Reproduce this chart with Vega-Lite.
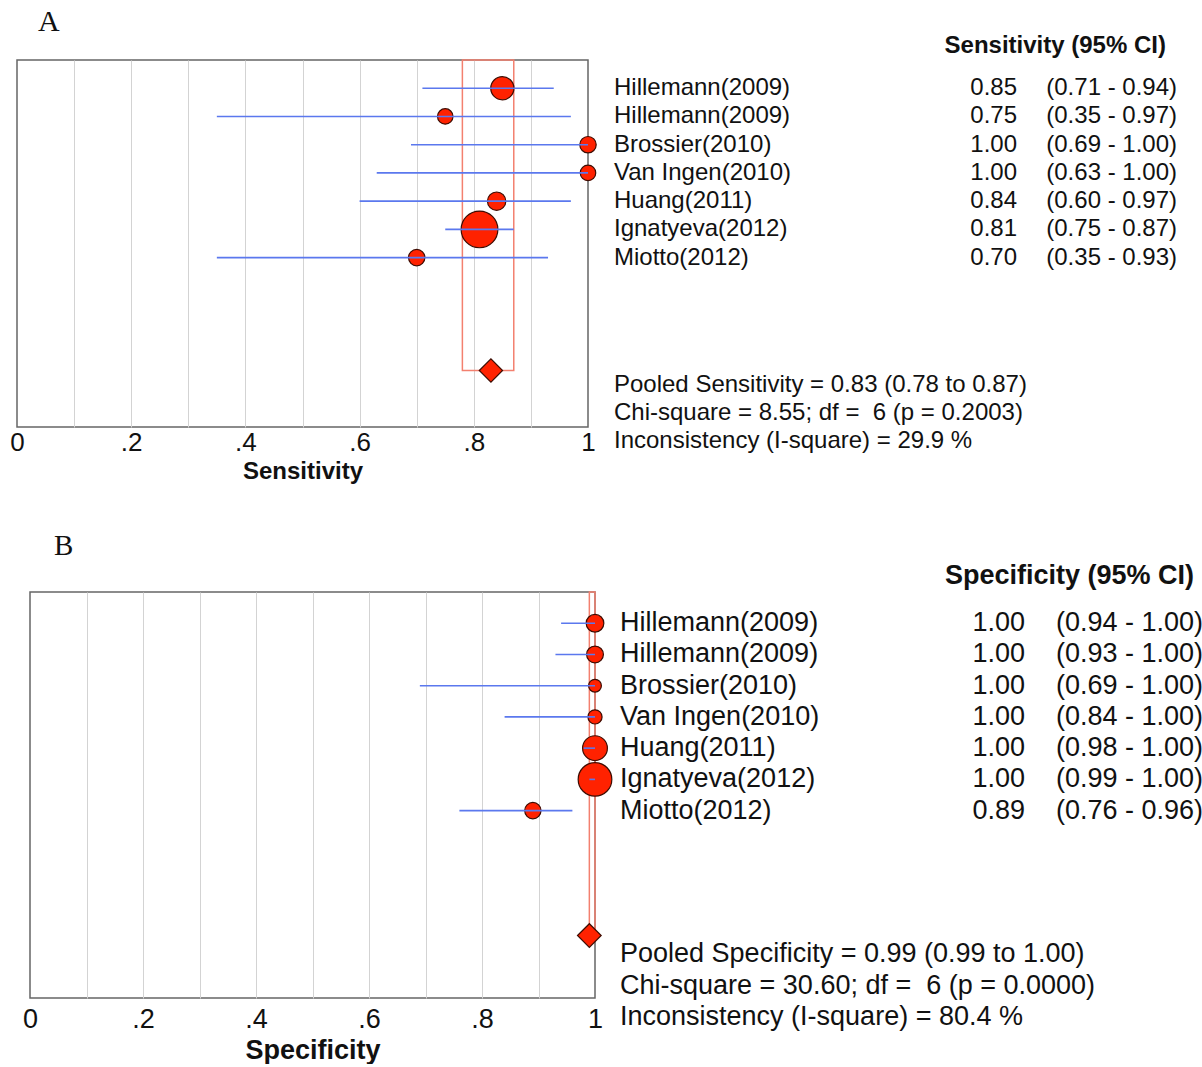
{
  "$schema": "https://vega.github.io/schema/vega-lite/v6.json",
  "background": "white",
  "padding": {"left": 9, "top": 6, "right": 0, "bottom": 0},
  "config": {
    "font": "Liberation Sans",
    "view": {"stroke": null},
    "text": {"color": "#111111"}
  },
  "datasets": {
    "sens": [
      {"row": 1, "study": "Hillemann(2009)", "est": 0.85, "lo": 0.71, "hi": 0.94, "weight": 16.6},
      {"row": 2, "study": "Hillemann(2009)", "est": 0.75, "lo": 0.35, "hi": 0.97, "weight": 7.4},
      {"row": 3, "study": "Brossier(2010)", "est": 1.0, "lo": 0.69, "hi": 1.0, "weight": 8.3},
      {"row": 4, "study": "Van Ingen(2010)", "est": 1.0, "lo": 0.63, "hi": 1.0, "weight": 7.4},
      {"row": 5, "study": "Huang(2011)", "est": 0.84, "lo": 0.6, "hi": 0.97, "weight": 10.4},
      {"row": 6, "study": "Ignatyeva(2012)", "est": 0.81, "lo": 0.75, "hi": 0.87, "weight": 41.6},
      {"row": 7, "study": "Miotto(2012)", "est": 0.7, "lo": 0.35, "hi": 0.93, "weight": 8.3}
    ],
    "sensPooled": [
      {"est": 0.83, "lo": 0.78, "hi": 0.87, "chi2": 8.55, "df": 6, "p": 0.2003, "i2": 29.9}
    ],
    "spec": [
      {"row": 1, "study": "Hillemann(2009)", "est": 1.0, "lo": 0.94, "hi": 1.0, "weight": 10.5},
      {"row": 2, "study": "Hillemann(2009)", "est": 1.0, "lo": 0.93, "hi": 1.0, "weight": 9.5},
      {"row": 3, "study": "Brossier(2010)", "est": 1.0, "lo": 0.69, "hi": 1.0, "weight": 5.5},
      {"row": 4, "study": "Van Ingen(2010)", "est": 1.0, "lo": 0.84, "hi": 1.0, "weight": 6.7},
      {"row": 5, "study": "Huang(2011)", "est": 1.0, "lo": 0.98, "hi": 1.0, "weight": 20.6},
      {"row": 6, "study": "Ignatyeva(2012)", "est": 1.0, "lo": 0.99, "hi": 1.0, "weight": 38.0},
      {"row": 7, "study": "Miotto(2012)", "est": 0.89, "lo": 0.76, "hi": 0.96, "weight": 9.0}
    ],
    "specPooled": [
      {"est": 0.99, "lo": 0.99, "hi": 1.0, "chi2": 30.6, "df": 6, "p": 0.0, "i2": 80.4}
    ]
  },
  "spacing": 47,
  "resolve": {"scale": {"x": "independent", "y": "independent", "size": "independent"}},
  "vconcat": [
    {
      "bounds": "flush",
      "spacing": 0,
      "resolve": {"scale": {"x": "independent", "y": "independent", "size": "independent"}},
      "hconcat": [
        {
          "title": {"text": "A", "anchor": "start", "frame": "group", "font": "Liberation Serif", "fontSize": 30, "fontWeight": "normal", "color": "#111111", "dx": 21, "offset": 22},
          "width": 571,
          "height": 367,
          "view": {"stroke": "#666666", "strokeWidth": 1.5},
          "layer": [
            {
              "data": {"name": "sensPooled"},
              "mark": {"type": "rect", "fill": "white", "fillOpacity": 0, "stroke": "#f3806f", "strokeWidth": 1.5},
              "encoding": {
                "x": {
                  "field": "lo", "type": "quantitative",
                  "scale": {"domain": [0, 1], "nice": false, "zero": false},
                  "axis": {
                    "values": [0, 0.1, 0.2, 0.3, 0.4, 0.5, 0.6, 0.7, 0.8, 0.9, 1],
                    "labelExpr": "datum.value == 0 ? '0' : datum.value == 1 ? '1' : (round(datum.value * 10) % 2 == 0 ? replace(format(datum.value, '.1f'), '0.', '.') : '')",
                    "grid": true, "gridColor": "#d3d3d3", "gridWidth": 1,
                    "gridOpacity": {"condition": {"test": "datum.value == 0 || datum.value == 1", "value": 0}, "value": 1},
                    "domain": false, "ticks": false,
                    "labelFont": "Liberation Sans", "labelFontSize": 26, "labelColor": "#111111", "labelPadding": 2,
                    "labelFlush": false, "labelOverlap": false,
                    "title": "Sensitivity", "titleFont": "Liberation Sans", "titleFontSize": 24, "titleFontWeight": "bold", "titleColor": "#111111", "titlePadding": 4
                  }
                },
                "x2": {"field": "hi"},
                "y": {"datum": 0, "type": "quantitative", "scale": {"domain": [0, 13], "reverse": true, "nice": false, "zero": false}, "axis": null},
                "y2": {"datum": 11}
              }
            },
            {
              "data": {"name": "sens"},
              "mark": {"type": "point", "shape": "circle", "filled": true, "fill": "#ff2200", "stroke": "#3d0c02", "strokeWidth": 1.2, "opacity": 1},
              "encoding": {
                "x": {"field": "est", "type": "quantitative"},
                "y": {"field": "row", "type": "quantitative"},
                "size": {"field": "weight", "type": "quantitative", "scale": {"domain": [0, 50], "range": [0, 1620]}, "legend": null}
              }
            },
            {
              "data": {"name": "sens"},
              "mark": {"type": "rule", "color": "#5b78ee", "strokeWidth": 1.6},
              "encoding": {
                "x": {"field": "lo", "type": "quantitative"},
                "x2": {"field": "hi"},
                "y": {"field": "row", "type": "quantitative"}
              }
            },
            {
              "data": {"name": "sensPooled"},
              "mark": {"type": "point", "shape": "diamond", "filled": true, "fill": "#ff2200", "stroke": "#3d0c02", "strokeWidth": 1.2, "size": 540, "opacity": 1},
              "encoding": {
                "x": {"field": "est", "type": "quantitative"},
                "y": {"datum": 11, "type": "quantitative"}
              }
            }
          ]
        },
        {
          "width": 610,
          "height": 367,
          "layer": [
            {
              "data": {"name": "sens"},
              "mark": {"type": "text", "align": "left", "baseline": "middle", "fontSize": 24},
              "encoding": {
                "x": {"datum": 0.0426, "type": "quantitative", "scale": {"domain": [0, 1], "nice": false, "zero": false}, "axis": null},
                "y": {"field": "row", "type": "quantitative", "scale": {"domain": [0, 13], "reverse": true, "nice": false, "zero": false}, "axis": null},
                "text": {"field": "study"}
              }
            },
            {
              "data": {"name": "sens"},
              "mark": {"type": "text", "align": "right", "baseline": "middle", "fontSize": 24},
              "encoding": {
                "x": {"datum": 0.7033, "type": "quantitative"},
                "y": {"field": "row", "type": "quantitative"},
                "text": {"field": "est", "format": ".2f"}
              }
            },
            {
              "data": {"name": "sens"},
              "mark": {"type": "text", "align": "right", "baseline": "middle", "fontSize": 24,
                       "text": {"expr": "'(' + format(datum.lo, '.2f') + ' - ' + format(datum.hi, '.2f') + ')'"}},
              "encoding": {
                "x": {"datum": 0.9656, "type": "quantitative"},
                "y": {"field": "row", "type": "quantitative"}
              }
            },
            {
              "data": {"name": "sensPooled"},
              "mark": {"type": "text", "align": "right", "baseline": "middle", "fontSize": 24, "fontWeight": "bold", "text": "Sensitivity (95% CI)"},
              "encoding": {
                "x": {"datum": 0.9475, "type": "quantitative"},
                "y": {"datum": -0.5, "type": "quantitative"}
              }
            },
            {
              "data": {"name": "sensPooled"},
              "mark": {"type": "text", "align": "left", "baseline": "middle", "fontSize": 24,
                       "text": {"expr": "'Pooled Sensitivity = ' + format(datum.est, '.2f') + ' (' + format(datum.lo, '.2f') + ' to ' + format(datum.hi, '.2f') + ')'"}},
              "encoding": {
                "x": {"datum": 0.0426, "type": "quantitative"},
                "y": {"datum": 11.5, "type": "quantitative"}
              }
            },
            {
              "data": {"name": "sensPooled"},
              "mark": {"type": "text", "align": "left", "baseline": "middle", "fontSize": 24,
                       "text": {"expr": "'Chi-square = ' + format(datum.chi2, '.2f') + '; df = \u00a0' + datum.df + ' (p = ' + format(datum.p, '.4f') + ')'"}},
              "encoding": {
                "x": {"datum": 0.0426, "type": "quantitative"},
                "y": {"datum": 12.5, "type": "quantitative"}
              }
            },
            {
              "data": {"name": "sensPooled"},
              "mark": {"type": "text", "align": "left", "baseline": "middle", "fontSize": 24,
                       "text": {"expr": "'Inconsistency (I-square) = ' + format(datum.i2, '.1f') + ' %'"}},
              "encoding": {
                "x": {"datum": 0.0426, "type": "quantitative"},
                "y": {"datum": 13.5, "type": "quantitative"}
              }
            }
          ]
        }
      ]
    },
    {
      "bounds": "flush",
      "spacing": 6,
      "resolve": {"scale": {"x": "independent", "y": "independent", "size": "independent"}},
      "hconcat": [
        {
          "width": 7,
          "height": 406,
          "data": {"values": [{}]},
          "mark": {"type": "point", "opacity": 0},
          "encoding": {}
        },
        {
          "title": {"text": "B", "anchor": "start", "frame": "group", "font": "Liberation Serif", "fontSize": 29, "fontWeight": "normal", "color": "#111111", "dx": 24, "offset": 30},
          "width": 565,
          "height": 406,
          "view": {"stroke": "#666666", "strokeWidth": 1.5},
          "layer": [
            {
              "data": {"name": "specPooled"},
              "mark": {"type": "rect", "fill": "white", "fillOpacity": 0, "stroke": "#f3806f", "strokeWidth": 1.5},
              "encoding": {
                "x": {
                  "field": "lo", "type": "quantitative",
                  "scale": {"domain": [0, 1], "nice": false, "zero": false},
                  "axis": {
                    "values": [0, 0.1, 0.2, 0.3, 0.4, 0.5, 0.6, 0.7, 0.8, 0.9, 1],
                    "labelExpr": "datum.value == 0 ? '0' : datum.value == 1 ? '1' : (round(datum.value * 10) % 2 == 0 ? replace(format(datum.value, '.1f'), '0.', '.') : '')",
                    "grid": true, "gridColor": "#d3d3d3", "gridWidth": 1,
                    "gridOpacity": {"condition": {"test": "datum.value == 0 || datum.value == 1", "value": 0}, "value": 1},
                    "domain": false, "ticks": false,
                    "labelFont": "Liberation Sans", "labelFontSize": 27, "labelColor": "#111111", "labelPadding": 8,
                    "labelFlush": false, "labelOverlap": false,
                    "title": "Specificity", "titleFont": "Liberation Sans", "titleFontSize": 27, "titleFontWeight": "bold", "titleColor": "#111111", "titlePadding": 5
                  }
                },
                "x2": {"field": "hi"},
                "y": {"datum": 0, "type": "quantitative", "scale": {"domain": [0, 13], "reverse": true, "nice": false, "zero": false}, "axis": null},
                "y2": {"datum": 11}
              }
            },
            {
              "data": {"name": "spec"},
              "mark": {"type": "point", "shape": "circle", "filled": true, "fill": "#ff2200", "stroke": "#3d0c02", "strokeWidth": 1.2, "opacity": 1},
              "encoding": {
                "x": {"field": "est", "type": "quantitative"},
                "y": {"field": "row", "type": "quantitative"},
                "size": {"field": "weight", "type": "quantitative", "scale": {"domain": [0, 50], "range": [0, 1490]}, "legend": null}
              }
            },
            {
              "data": {"name": "spec"},
              "mark": {"type": "rule", "color": "#5b78ee", "strokeWidth": 1.6},
              "encoding": {
                "x": {"field": "lo", "type": "quantitative"},
                "x2": {"field": "hi"},
                "y": {"field": "row", "type": "quantitative"}
              }
            },
            {
              "data": {"name": "specPooled"},
              "mark": {"type": "point", "shape": "diamond", "filled": true, "fill": "#ff2200", "stroke": "#3d0c02", "strokeWidth": 1.2, "size": 560, "opacity": 1},
              "encoding": {
                "x": {"field": "est", "type": "quantitative"},
                "y": {"datum": 11, "type": "quantitative"}
              }
            }
          ]
        },
        {
          "width": 602,
          "height": 406,
          "layer": [
            {
              "data": {"name": "spec"},
              "mark": {"type": "text", "align": "left", "baseline": "middle", "fontSize": 27},
              "encoding": {
                "x": {"datum": 0.0316, "type": "quantitative", "scale": {"domain": [0, 1], "nice": false, "zero": false}, "axis": null},
                "y": {"field": "row", "type": "quantitative", "scale": {"domain": [0, 13], "reverse": true, "nice": false, "zero": false}, "axis": null},
                "text": {"field": "study"}
              }
            },
            {
              "data": {"name": "spec"},
              "mark": {"type": "text", "align": "right", "baseline": "middle", "fontSize": 27},
              "encoding": {
                "x": {"datum": 0.7043, "type": "quantitative"},
                "y": {"field": "row", "type": "quantitative"},
                "text": {"field": "est", "format": ".2f"}
              }
            },
            {
              "data": {"name": "spec"},
              "mark": {"type": "text", "align": "left", "baseline": "middle", "fontSize": 27,
                       "text": {"expr": "'(' + format(datum.lo, '.2f') + ' - ' + format(datum.hi, '.2f') + ')'"}},
              "encoding": {
                "x": {"datum": 0.7558, "type": "quantitative"},
                "y": {"field": "row", "type": "quantitative"}
              }
            },
            {
              "data": {"name": "specPooled"},
              "mark": {"type": "text", "align": "right", "baseline": "middle", "fontSize": 27, "fontWeight": "bold", "text": "Specificity (95% CI)"},
              "encoding": {
                "x": {"datum": 0.985, "type": "quantitative"},
                "y": {"datum": -0.5, "type": "quantitative"}
              }
            },
            {
              "data": {"name": "specPooled"},
              "mark": {"type": "text", "align": "left", "baseline": "middle", "fontSize": 27,
                       "text": {"expr": "'Pooled Specificity = ' + format(datum.est, '.2f') + ' (' + format(datum.lo, '.2f') + ' to ' + format(datum.hi, '.2f') + ')'"}},
              "encoding": {
                "x": {"datum": 0.0316, "type": "quantitative"},
                "y": {"datum": 11.6, "type": "quantitative"}
              }
            },
            {
              "data": {"name": "specPooled"},
              "mark": {"type": "text", "align": "left", "baseline": "middle", "fontSize": 27,
                       "text": {"expr": "'Chi-square = ' + format(datum.chi2, '.2f') + '; df = \u00a0' + datum.df + ' (p = ' + format(datum.p, '.4f') + ')'"}},
              "encoding": {
                "x": {"datum": 0.0316, "type": "quantitative"},
                "y": {"datum": 12.6, "type": "quantitative"}
              }
            },
            {
              "data": {"name": "specPooled"},
              "mark": {"type": "text", "align": "left", "baseline": "middle", "fontSize": 27,
                       "text": {"expr": "'Inconsistency (I-square) = ' + format(datum.i2, '.1f') + ' %'"}},
              "encoding": {
                "x": {"datum": 0.0316, "type": "quantitative"},
                "y": {"datum": 13.6, "type": "quantitative"}
              }
            }
          ]
        }
      ]
    }
  ]
}
